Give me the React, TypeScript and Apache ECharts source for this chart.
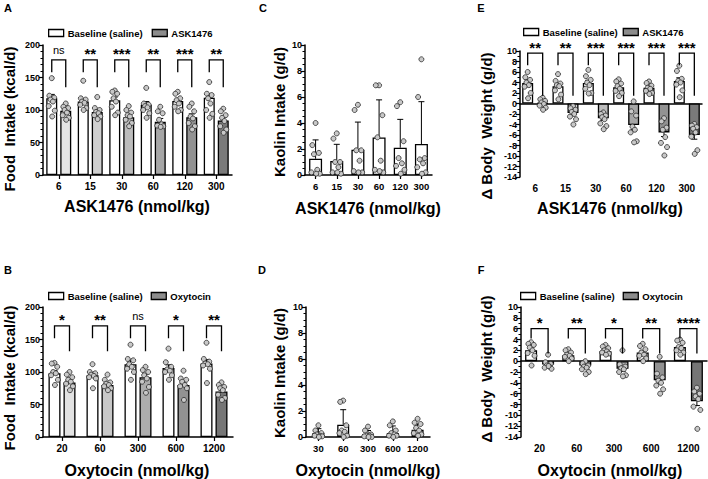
import React, { useEffect, useRef } from 'react';
import * as echarts from 'echarts';

const FONT = '"Liberation Sans", Arial, Helvetica, sans-serif';

// ---------- categories ----------
const askDoses = ['6', '15', '30', '60', '120', '300'];
const oxyFoodDoses = ['20', '60', '300', '600', '1200'];
const oxyKaolinDoses = ['30', '60', '300', '600', '1200'];

// ---------- A: food intake, ASK1476 ----------
const aBaseMean = [118, 113, 115, 108, 114, 119];
const aBaseSem = [6, 4, 5, 5, 4, 6];
const aAskMean = [99, 97, 89, 82, 89, 84];
const aAskSem = [4, 4, 4, 5, 5, 5];
const aBaseDots = [
  [149, 122, 119, 116, 113, 106, 99, 90],
  [145, 118, 116, 113, 111, 108, 103, 100],
  [130, 128, 125, 118, 113, 105, 96, 92],
  [134, 110, 108, 106, 104, 100, 95, 88],
  [128, 125, 118, 115, 110, 105, 100, 98],
  [143, 125, 123, 118, 110, 100, 94, 88],
];
const aAskDots = [
  [110, 105, 103, 100, 96, 92, 88, 85],
  [120, 103, 100, 97, 95, 92, 90, 86],
  [106, 100, 96, 92, 90, 85, 80, 75],
  [105, 98, 95, 85, 78, 76, 75, 74],
  [110, 105, 98, 90, 87, 80, 75, 70],
  [102, 98, 92, 88, 83, 75, 70, 65],
];
const aSig = ['ns', '**', '***', '**', '***', '**'];
const aBracket = [177, 158, 135]; // top, left leg end, right leg end

// ---------- B: food intake, oxytocin ----------
const bBaseMean = [98, 95, 112, 106, 113];
const bBaseSem = [4, 4, 6, 5, 6];
const bOxyMean = [84, 80, 92, 80, 70];
const bOxySem = [3, 3, 5, 5, 4];
const bBaseDots = [
  [114, 113, 108, 100, 98, 95, 88, 80],
  [112, 100, 98, 96, 94, 92, 90, 75],
  [142, 120, 118, 112, 108, 105, 100, 88],
  [136, 115, 108, 104, 102, 100, 95, 88],
  [145, 120, 116, 113, 112, 110, 105, 83],
];
const bOxyDots = [
  [100, 96, 92, 88, 85, 82, 78, 72],
  [96, 88, 84, 82, 80, 78, 75, 72],
  [108, 103, 100, 95, 90, 85, 77, 68],
  [102, 90, 88, 85, 80, 78, 75, 57],
  [84, 80, 77, 75, 72, 65, 60, 57],
];
const bSig = ['*', '**', 'ns', '*', '**'];
const bBracket = [171, 152, 132];

// ---------- C: kaolin, ASK1476 ----------
const cMean = [1.25, 1.08, 1.95, 2.88, 2.1, 2.38];
const cSd = [1.45, 1.28, 2.12, 2.9, 2.18, 3.26];
const cDots = [
  [4.0, 2.3, 1.7, 1.6, 0.4, 0.2, 0.1, 0.1],
  [3.2, 2.8, 1.0, 1.0, 0.6, 0.2, 0.1, 0.2],
  [5.4, 5.0, 1.9, 1.9, 1.1, 0.3, 0.2, 0.2],
  [6.9, 6.9, 4.6, 2.9, 1.1, 0.4, 0.2, 0.3],
  [5.6, 5.3, 2.6, 1.3, 0.9, 0.7, 0.4, 0.1],
  [8.9, 6.0, 1.3, 1.2, 0.9, 0.6, 0.2, 0.1],
];

// ---------- D: kaolin, oxytocin ----------
const dMean = [0.3, 0.95, 0.2, 0.3, 0.56];
const dSd = [0.34, 1.15, 0.3, 0.55, 0.44];
const dDots = [
  [0.9, 0.5, 0.3, 0.2, 0.1, 0.1, 0.05, 0.0],
  [2.8, 2.7, 0.9, 0.5, 0.4, 0.3, 0.1, 0.0],
  [0.8, 0.5, 0.2, 0.1, 0.1, 0.05, 0.0, 0.0],
  [1.2, 0.9, 0.5, 0.3, 0.2, 0.1, 0.1, 0.0],
  [1.4, 1.1, 1.0, 0.7, 0.5, 0.3, 0.2, 0.1],
];

// ---------- E: body weight, ASK1476 ----------
const eBaseMean = [3.9, 3.3, 3.9, 3.1, 3.0, 4.3];
const eBaseSem = [0.6, 0.5, 0.5, 0.4, 0.3, 0.6];
const eAskMean = [0.1, -1.8, -2.8, -4.1, -5.5, -6.0];
const eAskSem = [0.3, 0.4, 0.4, 0.9, 0.8, 0.8];
const eBaseDots = [
  [6.0, 5.0, 4.5, 4.0, 3.5, 3.2, 2.0, 1.0],
  [5.6, 4.3, 3.8, 3.5, 3.3, 2.5, 1.7, 0.8],
  [6.4, 5.2, 4.5, 4.0, 3.5, 2.8, 2.0, 1.9],
  [4.6, 4.2, 3.8, 3.3, 2.8, 2.4, 2.0, 1.4],
  [4.2, 3.9, 3.4, 3.0, 2.8, 2.4, 2.0, 1.8],
  [7.2, 6.2, 4.7, 4.3, 4.0, 3.6, 2.5, 1.2],
];
const eAskDots = [
  [1.1, 0.8, 0.5, 0.2, -0.1, -0.4, -0.8, -1.2],
  [-0.5, -0.9, -1.2, -1.6, -2.0, -2.5, -3.0, -4.0],
  [-1.7, -2.0, -2.3, -2.6, -3.0, -3.8, -4.3, -4.9],
  [0.4, -1.5, -2.3, -4.4, -5.0, -5.5, -7.2, -7.4],
  [-2.8, -3.4, -4.6, -5.0, -6.4, -7.5, -8.3, -9.9],
  [-3.9, -4.2, -4.5, -4.8, -5.5, -6.3, -8.9, -9.6],
];
const eSig = ['**', '**', '***', '***', '***', '***'];
const eBracket = [9.6, 7.3, 1.5];

// ---------- F: body weight, oxytocin ----------
const fBaseMean = [2.0, 1.1, 1.85, 1.6, 2.6];
const fBaseSem = [0.4, 0.3, 0.3, 0.4, 0.3];
const fOxyMean = [-0.6, -0.8, -1.4, -3.5, -7.4];
const fOxySem = [0.3, 0.3, 0.5, 0.7, 0.8];
const fBaseDots = [
  [3.5, 3.2, 3.0, 2.5, 2.0, 1.5, 1.0, -0.8],
  [2.2, 2.0, 1.6, 1.2, 1.0, 0.8, 0.5, 0.0],
  [3.0, 2.7, 2.4, 2.0, 1.8, 1.6, 1.4, 1.2],
  [3.2, 2.8, 2.2, 1.6, 1.2, 1.0, 0.5, 0.0],
  [4.0, 3.8, 3.4, 2.6, 2.4, 2.0, 1.6, 1.2],
];
const fOxyDots = [
  [1.2, -0.2, -0.5, -0.8, -1.0, -1.2, -1.4, -0.9],
  [0.0, -0.4, -0.8, -1.0, -1.2, -1.5, -2.0, -2.4],
  [2.0, -0.6, -1.0, -1.3, -1.5, -2.0, -2.6, -2.8],
  [0.8, -2.3, -3.0, -3.6, -4.0, -4.5, -5.2, -6.0],
  [-4.9, -5.6, -6.0, -6.5, -7.0, -8.4, -9.0, -12.5],
];
const fSig = ['*', '**', '*', '**', '****'];
const fBracket = [6.0, 4.2, 1.4];

// ---------- styles ----------
const ask6Shades = ['#e4e4e4', '#d0d0d0', '#bcbcbc', '#a6a6a6', '#929292', '#7a7a7a'];
const oxy5Shades = ['#e2e2e2', '#c8c8c8', '#adadad', '#929292', '#767676'];
const JIT = [0, -0.3, 0.3, -0.15, 0.15, -0.38, 0.38, 0.05];

const txt = (size: number, weight: any = 'bold') => ({
  fontFamily: FONT, fontSize: size, fontWeight: weight, color: '#000',
});

function yAxis(i: number, min: number, max: number, interval: number, minorSplit: number) {
  return {
    type: 'value', gridIndex: i, min, max, interval,
    axisLine: { show: true, lineStyle: { color: '#000', width: 1.5 } },
    axisTick: { show: true, length: 4, lineStyle: { color: '#000', width: 1.2 } },
    minorTick: { show: true, splitNumber: minorSplit, length: 2.5, lineStyle: { color: '#000', width: 1 } },
    splitLine: { show: false },
    axisLabel: { ...txt(9), margin: 3 },
  };
}

function xAxis(i: number, cats: string[], showLabels = true, ticks = true, size = 10) {
  return {
    type: 'category', gridIndex: i, data: cats, position: 'bottom',
    axisLine: { show: true, onZero: true, lineStyle: { color: '#000', width: 1.5 } },
    axisTick: { show: ticks, alignWithLabel: true, length: 4, lineStyle: { color: '#000', width: 1.2 } },
    axisLabel: { show: showLabels, ...txt(size), margin: 6, interval: 0, hideOverlap: false },
  };
}

function dotsSeries(i: number, groups: { dots: number[][]; g: number }[], off: number, spread: number) {
  const data: number[][] = [];
  groups.forEach(({ dots, g }) =>
    dots.forEach((arr, k) => arr.forEach((v, j) => data.push([k, v, g, j]))),
  );
  return {
    type: 'custom', xAxisIndex: i, yAxisIndex: i, z: 5, silent: true,
    encode: { x: 0, y: 1 },
    data,
    renderItem: (_p: any, api: any) => {
      const c = api.coord([api.value(0), api.value(1)]);
      const x = c[0] + api.value(2) * off + JIT[api.value(3) % JIT.length] * spread;
      return {
        type: 'circle',
        shape: { cx: x, cy: c[1], r: 2.5 },
        style: { fill: '#c8c8c8', stroke: '#2a2a2a', lineWidth: 0.8 },
      };
    },
  };
}

function errSeries(i: number, groups: { mean: number[]; err: number[]; g: number }[], off: number) {
  const data: number[][] = [];
  groups.forEach(({ mean, err, g }) => mean.forEach((m, k) => data.push([k, m, err[k], g])));
  return {
    type: 'custom', xAxisIndex: i, yAxisIndex: i, z: 4, silent: true,
    encode: { x: 0, y: 1 },
    data,
    renderItem: (_p: any, api: any) => {
      const k = api.value(0), m = api.value(1), e = api.value(2), g = api.value(3);
      const dir = m >= 0 ? 1 : -1;
      const a = api.coord([k, m]);
      const b = api.coord([k, m + dir * e]);
      const x = a[0] + g * off;
      return {
        type: 'group',
        children: [
          { type: 'line', shape: { x1: x, y1: a[1], x2: x, y2: b[1] }, style: { stroke: '#000', lineWidth: 1 } },
          { type: 'line', shape: { x1: x - 3, y1: b[1], x2: x + 3, y2: b[1] }, style: { stroke: '#000', lineWidth: 1 } },
        ],
      };
    },
  };
}

function bracketSeries(i: number, sig: string[], br: number[], off: number) {
  return {
    type: 'custom', xAxisIndex: i, yAxisIndex: i, z: 6, silent: true,
    encode: { x: 0, y: 1 },
    data: sig.map((_s, k) => [k, br[0]]),
    renderItem: (p: any, api: any) => {
      const k = api.value(0);
      const t = api.coord([k, br[0]]);
      const l = api.coord([k, br[1]]);
      const r = api.coord([k, br[2]]);
      const xl = t[0] - off, xr = t[0] + off;
      const s = sig[p.dataIndex];
      const isNs = s === 'ns';
      return {
        type: 'group',
        children: [
          {
            type: 'polyline',
            shape: { points: [[xl, l[1]], [xl, t[1]], [xr, t[1]], [xr, r[1]]] },
            style: { stroke: '#000', lineWidth: 1.3, fill: null },
          },
          {
            type: 'text',
            x: t[0], y: isNs ? t[1] - 10 : t[1] - 6,
            style: {
              text: s, align: 'center', verticalAlign: 'middle',
              fontFamily: FONT, fontSize: isNs ? 11 : 15, fontWeight: isNs ? 'normal' : 'bold', fill: '#000',
            },
          },
        ],
      };
    },
  };
}

function barPair(i: number, treatName: string, base: number[], treat: number[], shades: string[], w: number, gap: number) {
  return [
    {
      type: 'bar', name: 'Baseline (saline)', xAxisIndex: i, yAxisIndex: i, data: base,
      barWidth: w, barGap: `${(gap / w) * 100}%`, z: 2,
      itemStyle: { color: '#ffffff', borderColor: '#000', borderWidth: 1.3 },
    },
    {
      type: 'bar', name: treatName, xAxisIndex: i, yAxisIndex: i,
      data: treat.map((v, k) => ({ value: v, itemStyle: { color: shades[k] } })),
      barWidth: w, barGap: `${(gap / w) * 100}%`, z: 2,
      itemStyle: { color: '#8c8c8c', borderColor: '#000', borderWidth: 1.3 },
    },
  ];
}

function legend(left: number, top: number, treatName: string, gap: number) {
  return {
    data: ['Baseline (saline)', treatName], left, top, padding: 0, icon: 'rect',
    itemWidth: 15, itemHeight: 7, itemGap: gap, selectedMode: false,
    itemStyle: { borderColor: '#000', borderWidth: 1.3 },
    textStyle: { ...txt(9.5), padding: [0, 0, 0, -1] },
  };
}

function title(x: number, y: number, text: string, size: number, rot = 0) {
  return {
    type: 'text', x, y, rotation: rot, silent: true,
    style: { text, align: 'center', verticalAlign: 'middle', fontFamily: FONT, fontSize: size, fontWeight: 'bold', fill: '#000' },
  };
}

export default function App() {
  const ref = useRef<HTMLDivElement>(null);
  useEffect(() => {
    if (!ref.current) return;
    const chart = echarts.init(ref.current, null, { renderer: 'svg' });
    const R = Math.PI / 2;
    const offA = 7, offB = 7.5, offE = 7.5, offF = 8.5;
    const option: any = {
      animation: false,
      backgroundColor: '#ffffff',
      grid: [
        { left: 43, top: 45, width: 189, height: 130 },   // A
        { left: 305, top: 45, width: 127, height: 130 },  // C
        { left: 520, top: 51, width: 182, height: 126 },  // E
        { left: 43, top: 307, width: 190, height: 130 },  // B
        { left: 306, top: 307, width: 124, height: 130 }, // D
        { left: 521, top: 307, width: 186, height: 130 }, // F
      ],
      xAxis: [
        xAxis(0, askDoses),
        xAxis(1, askDoses, true, true, 9.5),
        xAxis(2, askDoses, false, false),
        xAxis(3, oxyFoodDoses),
        xAxis(4, oxyKaolinDoses, true, true, 9.5),
        xAxis(5, oxyFoodDoses, false, false),
        { ...xAxis(2, askDoses, true, false), axisLine: { show: false, onZero: false } },
        { ...xAxis(5, oxyFoodDoses, true, false), axisLine: { show: false, onZero: false } },
      ],
      yAxis: [
        yAxis(0, 0, 200, 50, 5),
        yAxis(1, 0, 10, 2, 4),
        yAxis(2, -14, 10, 2, 2),
        yAxis(3, 0, 200, 50, 5),
        yAxis(4, 0, 10, 2, 4),
        yAxis(5, -14, 10, 2, 2),
      ],
      legend: [
        legend(48, 28, 'ASK1476', 9),
        legend(523, 27, 'ASK1476', 5),
        legend(48, 291, 'Oxytocin', 8),
        legend(520, 291, 'Oxytocin', 8),
      ],
      series: [
        // A
        ...barPair(0, 'ASK1476', aBaseMean, aAskMean, ask6Shades, 11, 3),
        errSeries(0, [{ mean: aBaseMean, err: aBaseSem, g: -1 }, { mean: aAskMean, err: aAskSem, g: 1 }], offA),
        dotsSeries(0, [{ dots: aBaseDots, g: -1 }, { dots: aAskDots, g: 1 }], offA, 8),
        bracketSeries(0, aSig, aBracket, offA),
        // C
        {
          type: 'bar', name: 'Kaolin ASK', xAxisIndex: 1, yAxisIndex: 1, data: cMean, barWidth: 13, z: 2,
          itemStyle: { color: '#fff', borderColor: '#000', borderWidth: 1.3 },
        },
        errSeries(1, [{ mean: cMean, err: cSd, g: 0 }], 0),
        dotsSeries(1, [{ dots: cDots, g: 0 }], 0, 11),
        // E
        ...barPair(2, 'ASK1476', eBaseMean, eAskMean, ask6Shades, 11, 4),
        errSeries(2, [{ mean: eBaseMean, err: eBaseSem, g: -1 }, { mean: eAskMean, err: eAskSem, g: 1 }], offE),
        dotsSeries(2, [{ dots: eBaseDots, g: -1 }, { dots: eAskDots, g: 1 }], offE, 8),
        bracketSeries(2, eSig, eBracket, offE),
        // B
        ...barPair(3, 'Oxytocin', bBaseMean, bOxyMean, oxy5Shades, 12, 3),
        errSeries(3, [{ mean: bBaseMean, err: bBaseSem, g: -1 }, { mean: bOxyMean, err: bOxySem, g: 1 }], offB),
        dotsSeries(3, [{ dots: bBaseDots, g: -1 }, { dots: bOxyDots, g: 1 }], offB, 9),
        bracketSeries(3, bSig, bBracket, offB),
        // D
        {
          type: 'bar', name: 'Kaolin Oxy', xAxisIndex: 4, yAxisIndex: 4, data: dMean, barWidth: 12, z: 2,
          itemStyle: { color: '#fff', borderColor: '#000', borderWidth: 1.3 },
        },
        errSeries(4, [{ mean: dMean, err: dSd, g: 0 }], 0),
        dotsSeries(4, [{ dots: dDots, g: 0 }], 0, 10),
        // F
        ...barPair(5, 'Oxytocin', fBaseMean, fOxyMean, oxy5Shades, 12, 5),
        errSeries(5, [{ mean: fBaseMean, err: fBaseSem, g: -1 }, { mean: fOxyMean, err: fOxySem, g: 1 }], offF),
        dotsSeries(5, [{ dots: fBaseDots, g: -1 }, { dots: fOxyDots, g: 1 }], offF, 9),
        bracketSeries(5, fSig, fBracket, offF),
      ],
      graphic: [
        title(8, 8, 'A', 11), title(263, 8, 'C', 11), title(481, 8, 'E', 11),
        title(8, 270, 'B', 11), title(262, 270, 'D', 11), title(481, 270, 'F', 11),
        title(9, 119, 'Food  Intake (kcal/d)', 15, R),
        title(279, 112, 'Kaolin Intake (g/d)', 15, R),
        title(486, 126, '\u0394 Body  Weight (g/d)', 15, R),
        title(9, 378, 'Food  Intake (kcal/d)', 15, R),
        title(279, 373, 'Kaolin Intake (g/d)', 15, R),
        title(486, 369, '\u0394 Body  Weight (g/d)', 15, R),
        title(137, 206, 'ASK1476 (nmol/kg)', 16),
        title(368, 208, 'ASK1476 (nmol/kg)', 16),
        title(610, 208, 'ASK1476 (nmol/kg)', 16),
        title(137, 470, 'Oxytocin (nmol/kg)', 16),
        title(368, 470, 'Oxytocin (nmol/kg)', 16),
        title(610, 470, 'Oxytocin (nmol/kg)', 16),
      ],
    };
    chart.setOption(option);
    return () => chart.dispose();
  }, []);
  return <div ref={ref} style={{ position: 'absolute', left: 0, top: 0, width: 708, height: 479 }} />;
}
